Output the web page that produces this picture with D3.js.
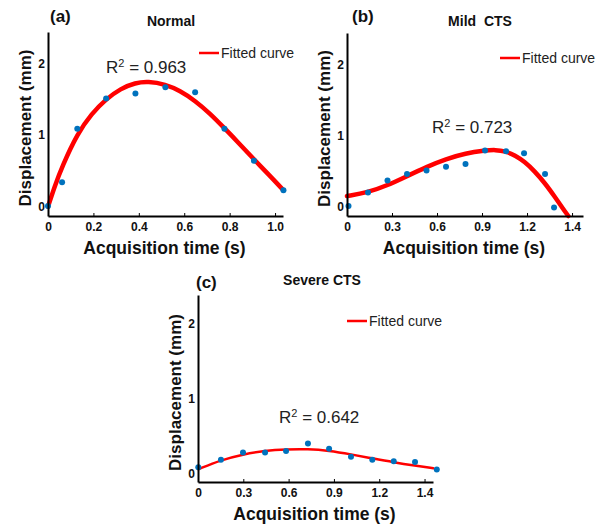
<!DOCTYPE html>
<html>
<head>
<meta charset="utf-8">
<script src="https://cdn.jsdelivr.net/npm/d3@7"></script>
<style>
  body { margin: 0; background: #fff; }
  svg { font-family: "Liberation Sans", Arial, sans-serif; }
</style>
</head>
<body>
<div id="chart"></div>
<script>
// measured points (blue dots)
const timeA = [0.0, 0.062, 0.129, 0.256, 0.385, 0.517, 0.648, 0.777, 0.907, 1.037];
const dispA = [0.01, 0.34, 1.09, 1.51, 1.58, 1.67, 1.60, 1.09, 0.64, 0.23];
const timeB = [0.01, 0.14, 0.27, 0.40, 0.53, 0.66, 0.79, 0.92, 1.06, 1.18, 1.32, 1.38];
const dispB = [0.01, 0.20, 0.37, 0.46, 0.51, 0.56, 0.60, 0.79, 0.78, 0.75, 0.46, -0.01];
const timeC = [0.002, 0.152, 0.298, 0.444, 0.583, 0.728, 0.868, 1.013, 1.154, 1.296, 1.437, 1.581];
const dispC = [0.08, 0.18, 0.28, 0.28, 0.30, 0.40, 0.33, 0.22, 0.18, 0.16, 0.15, 0.05];

// fitted curves
const fitTimeA = [0.0, 0.03, 0.062, 0.129, 0.192, 0.255, 0.32, 0.385, 0.44, 0.517, 0.581, 0.648, 0.714, 0.776, 0.843, 0.907, 0.972, 1.037];
const fitDispA = [0.0, 0.29, 0.56, 1.02, 1.30, 1.50, 1.65, 1.73, 1.75, 1.71, 1.62, 1.48, 1.30, 1.10, 0.88, 0.66, 0.45, 0.23];
const fitTimeB = [0.0, 0.138, 0.27, 0.40, 0.53, 0.66, 0.79, 0.92, 0.99, 1.056, 1.12, 1.185, 1.25, 1.32, 1.385, 1.447, 1.475];
const fitDispB = [0.15, 0.20, 0.30, 0.43, 0.56, 0.67, 0.75, 0.79, 0.80, 0.78, 0.72, 0.63, 0.50, 0.33, 0.14, -0.05, -0.13];
const fitTimeC = [0.002, 0.152, 0.298, 0.444, 0.583, 0.728, 0.867, 1.013, 1.154, 1.296, 1.437, 1.558];
const fitDispC = [0.054, 0.178, 0.254, 0.303, 0.321, 0.325, 0.303, 0.254, 0.20, 0.147, 0.102, 0.067];

const xTicksA = [0, 0.2, 0.4, 0.6, 0.8, 1.0];
const xTickLabelsA = ["0", "0.2", "0.4", "0.6", "0.8", "1.0"];
const xTicksBC = [0, 0.3, 0.6, 0.9, 1.2, 1.5];
const xTickLabelsBC = ["0", "0.3", "0.6", "0.9", "1.2", "1.4"];
const yTicks = [0, 1, 2];
const yTickLabels = ["0", "1", "2"];

const tags = ["(a)", "(b)", "(c)"];
const titles = ["Normal", "Mild  CTS", "Severe CTS"];
const r2Values = ["0.963", "0.723", "0.642"];

let svg = d3.select("#chart")
    .append("svg")
    .attr("width", 608)
    .attr("height", 524);

let panels = [
    { time: timeA, disp: dispA, fitT: fitTimeA, fitD: fitDispA, xt: xTicksA, xl: xTickLabelsA,
      x0: 48, x1: 283, y0: 216, y1: 32, xdom: [0, 1.035], ydom: [-0.13, 2.44],
      tag: [50, 22], title: [171, 26], leg: [199, 53], r2: [106, 73], lw: 4.5 },
    { time: timeB, disp: dispB, fitT: fitTimeB, fitD: fitDispB, xt: xTicksBC, xl: xTickLabelsBC,
      x0: 347, x1: 583, y0: 216, y1: 33, xdom: [0, 1.573], ydom: [-0.13, 2.44],
      tag: [352, 22], title: [480, 26], leg: [500, 58], r2: [432, 133], lw: 4.5 },
    { time: timeC, disp: dispC, fitT: fitTimeC, fitD: fitDispC, xt: xTicksBC, xl: xTickLabelsBC,
      x0: 198, x1: 433, y0: 482, y1: 295, xdom: [0, 1.556], ydom: [-0.117, 2.39],
      tag: [196, 288], title: [322, 285], leg: [347, 321], r2: [279, 423], lw: 2.5 }
];

panels.forEach(function(p, i) {
    let g = svg.append("g");

    let x = d3.scaleLinear().domain(p.xdom).range([p.x0, p.x1]);
    let y = d3.scaleLinear().domain(p.ydom).range([p.y0, p.y1]);

    // fitted curve
    let pts = p.fitT.map((t, k) => [t, p.fitD[k]]);
    g.append("path")
        .datum(pts)
        .attr("fill", "none")
        .attr("stroke", "#ff0000")
        .attr("stroke-width", p.lw)
        .attr("stroke-linecap", "round")
        .attr("d", d3.line().x(d => x(d[0])).y(d => y(d[1])).curve(d3.curveBasis));

    // dots
    g.selectAll("circle")
        .data(p.time.map((t, k) => [t, p.disp[k]]))
        .enter().append("circle")
        .attr("cx", d => x(d[0]))
        .attr("cy", d => y(d[1]))
        .attr("r", 3)
        .attr("fill", "#0072BD");

    // axes
    let xa = g.append("g")
        .attr("transform", `translate(0,${p.y0})`)
        .call(d3.axisBottom(x).tickValues(p.xt)
            .tickFormat((d, k) => p.xl[k])
            .tickSizeInner(-3).tickSizeOuter(0).tickPadding(6.5));
    let ya = g.append("g")
        .attr("transform", `translate(${p.x0},0)`)
        .call(d3.axisLeft(y).tickValues(yTicks)
            .tickFormat((d, k) => yTickLabels[k])
            .tickSizeInner(0).tickSizeOuter(0).tickPadding(3));
    [xa, ya].forEach(a => {
        a.select(".domain").attr("stroke", "#000").attr("stroke-width", 2);
        a.selectAll(".tick line").attr("stroke", "#000").attr("stroke-width", 1);
        a.selectAll("text").attr("fill", "#111").style("font-size", "12px").style("font-weight", "bold");
    });

    // tag and title
    g.append("text").attr("x", p.tag[0]).attr("y", p.tag[1])
        .text(tags[i]).style("font-size", "17px").style("font-weight", "bold").attr("fill", "#111");
    g.append("text").attr("x", p.title[0]).attr("y", p.title[1])
        .attr("text-anchor", "middle")
        .style("white-space", "pre")
        .text(titles[i]).style("font-size", "14px").style("font-weight", "bold").attr("fill", "#111");

    // legend
    g.append("line")
        .attr("x1", p.leg[0]).attr("x2", p.leg[0] + 20)
        .attr("y1", p.leg[1]).attr("y2", p.leg[1])
        .attr("stroke", "#ff0000").attr("stroke-width", 2.5);
    g.append("text").attr("x", p.leg[0] + 22).attr("y", p.leg[1] + 5)
        .text("Fitted curve").style("font-size", "14px").attr("fill", "#222");

    // R squared
    let r2 = g.append("text").attr("x", p.r2[0]).attr("y", p.r2[1])
        .style("font-size", "17px").attr("fill", "#222");
    r2.append("tspan").text("R");
    r2.append("tspan").attr("dy", -6).style("font-size", "11px").text("2");
    r2.append("tspan").attr("dy", 6).text(" = " + r2Values[i]);

    // axis titles
    g.append("text")
        .attr("transform", `translate(${p.x0 - 23},${(p.y0 + p.y1) / 2 + 4}) rotate(-90)`)
        .attr("text-anchor", "middle")
        .attr("dominant-baseline", "central")
        .text("Displacement (mm)")
        .style("font-size", "17px").style("font-weight", "bold").attr("fill", "#111");
    g.append("text")
        .attr("x", (p.x0 + p.x1) / 2 - 1)
        .attr("y", p.y0 + 38)
        .attr("text-anchor", "middle")
        .text("Acquisition time (s)")
        .style("font-size", "17.5px").style("font-weight", "bold").attr("fill", "#111");
});
</script>
</body>
</html>
